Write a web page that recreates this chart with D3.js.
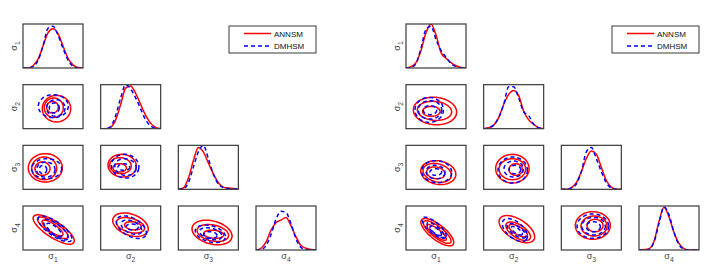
<!DOCTYPE html>
<html>
<head>
<meta charset="utf-8">
<script src="https://cdn.jsdelivr.net/npm/d3@7"></script>
<style>
  body { margin: 0; background: #fff; }
  text { font-family: "Liberation Sans", Arial, sans-serif; }
</style>
</head>
<body>
<svg id="chart" width="710" height="272"></svg>
<script>
// parameter names (sigma subscripts) and methods
const params = ["1", "2", "3", "4"];
const methods = ["ANNSM", "DMHSM"];
const methodColor = ["#ff0000", "#0000ff"];

// common grid for the marginal densities (standardised sigma)
const gridX = [-3, -2.5, -2, -1.5, -1, -0.5, 0, 0.5, 1, 1.5, 2, 2.5, 3];

// marginal densities, one row per sigma (1 = top of panel)
const leftANN = [
  [0, 0, 0.05, 0.2, 0.5, 0.8, 0.89, 0.78, 0.5, 0.22, 0.07, 0.01, 0],
  [0, 0, 0.03, 0.2, 0.55, 0.92, 0.97, 0.8, 0.55, 0.3, 0.12, 0.03, 0],
  [0, 0.03, 0.25, 0.65, 0.95, 0.85, 0.6, 0.35, 0.15, 0.05, 0.03, 0.02, 0],
  [0, 0.04, 0.18, 0.45, 0.62, 0.68, 0.74, 0.55, 0.3, 0.1, 0.04, 0.01, 0]
];
const leftDMH = [
  [0, 0, 0.03, 0.17, 0.5, 0.9, 0.95, 0.75, 0.45, 0.18, 0.04, 0, 0],
  [0, 0, 0.05, 0.3, 0.7, 1.0, 0.9, 0.7, 0.45, 0.2, 0.06, 0.01, 0],
  [0, 0.01, 0.15, 0.5, 0.85, 1.0, 0.7, 0.35, 0.12, 0.04, 0.02, 0.01, 0],
  [0, 0.01, 0.1, 0.35, 0.7, 0.88, 0.85, 0.6, 0.25, 0.06, 0.01, 0, 0]
];
const rightANN = [
  [0, 0.03, 0.12, 0.4, 0.8, 1.0, 0.75, 0.35, 0.22, 0.12, 0.05, 0.01, 0],
  [0, 0.02, 0.08, 0.25, 0.55, 0.78, 0.87, 0.75, 0.4, 0.2, 0.1, 0.02, 0],
  [0, 0, 0.04, 0.15, 0.4, 0.7, 0.87, 0.8, 0.5, 0.2, 0.05, 0, 0],
  [0, 0.01, 0.03, 0.2, 0.65, 0.97, 0.75, 0.4, 0.15, 0.03, 0, 0, 0]
];
const rightDMH = [
  [0, 0.01, 0.1, 0.45, 0.88, 0.95, 0.65, 0.4, 0.25, 0.1, 0.03, 0, 0],
  [0, 0.02, 0.08, 0.25, 0.55, 0.95, 0.95, 0.7, 0.38, 0.3, 0.1, 0.02, 0],
  [0, 0, 0.03, 0.12, 0.4, 0.85, 0.95, 0.7, 0.4, 0.15, 0.03, 0, 0],
  [0, 0, 0.02, 0.18, 0.6, 0.98, 0.8, 0.4, 0.12, 0.02, 0, 0, 0]
];

// pairwise contours: [row, col, rings]; ring = [cx, cy, a, b, tilt in degrees]
const leftContANN = [
  [1, 0, [[0.35, -0.27, 1.42, 1.33, 0], [0.08, -0.14, 0.95, 0.97, 0], [-0.05, -0.07, 0.58, 0.58, 0]]],
  [2, 0, [[-0.77, -0.07, 1.7, 1.42, 0], [-0.88, -0.14, 1.25, 1.13, 0], [-1.05, -0.18, 0.75, 0.67, 0]]],
  [2, 1, [[-0.85, 0.23, 1.42, 1.13, 5], [-1.02, 0.23, 1.08, 0.8, 5], [-1.1, -0.07, 0.67, 0.42, 0]]],
  [3, 0, [[0.07, -0.2, 2.4, 0.8, 33], [-0.02, 0.03, 1.8, 0.55, 33], [-0.05, 0, 1.25, 0.4, 35]]],
  [3, 1, [[-0.02, 0.45, 1.85, 1.05, 20], [-0.02, 0.37, 1.45, 0.7, 15], [0.23, 0.3, 0.85, 0.4, 8]]],
  [3, 2, [[0.37, -0.61, 2.05, 1.15, 15], [0.45, -0.68, 1.6, 0.8, 12], [0.53, -0.85, 1.0, 0.4, 5]]]
];
const leftContDMH = [
  [1, 0, [[0.03, 0.07, 1.5, 1.15, 0], [0.28, -0.18, 0.92, 0.83, 0], [0.13, -0.18, 0.5, 0.5, 0]]],
  [2, 0, [[-0.63, -0.18, 1.5, 1.0, 0], [-0.72, -0.3, 0.92, 0.75, 0], [-1.0, -0.3, 0.37, 0.42, 0]]],
  [2, 1, [[-0.55, 0.16, 1.38, 1.18, 10], [-0.52, 0.04, 1.08, 0.83, 10], [-0.68, 0.04, 0.58, 0.33, 0]]],
  [3, 0, [[0.2, -0.11, 2.0, 0.7, 35], [0.28, -0.23, 1.5, 0.55, 38], [0.12, -0.27, 0.95, 0.35, 40]]],
  [3, 1, [[0.07, 0.11, 1.65, 0.9, 30], [0.07, 0.11, 1.1, 0.6, 25], [0.15, 0.14, 0.6, 0.3, 5]]],
  [3, 2, [[0.2, -0.79, 1.55, 0.8, 15], [0.25, -0.78, 1.15, 0.55, 15], [0.2, -0.95, 0.67, 0.33, 5]]]
];
const rightContANN = [
  [1, 0, [[-0.1, -0.59, 2.17, 1.37, 5], [-0.15, -0.57, 1.72, 0.95, 5], [-0.47, -0.64, 0.87, 0.5, 0]]],
  [2, 0, [[0.23, -0.72, 1.77, 1.17, 10], [0.12, -0.75, 1.45, 0.9, 15], [-0.02, -0.75, 0.92, 0.58, 10]]],
  [2, 1, [[-0.13, -0.18, 1.67, 1.43, 0], [-0.13, -0.25, 1.33, 1.05, 0], [0.2, -0.3, 0.67, 0.58, 0]]],
  [3, 0, [[0.13, -0.57, 2.0, 0.75, 38], [0.12, -0.55, 1.7, 0.55, 38], [0.07, -0.61, 1.2, 0.35, 38]]],
  [3, 1, [[0.32, -0.16, 2.0, 1.0, 32], [0.45, -0.44, 1.4, 0.65, 32], [0.45, -0.37, 1.05, 0.4, 30]]],
  [3, 2, [[0.15, 0.34, 1.75, 1.38, 0], [0.27, 0.27, 1.3, 1.0, 0], [0.37, 0.34, 0.8, 0.62, 0]]]
];
const rightContDMH = [
  [1, 0, [[-0.68, -0.44, 1.42, 1.25, 0], [-0.6, -0.44, 1.17, 0.92, 0], [-0.6, -0.48, 0.67, 0.45, 0]]],
  [2, 0, [[0.07, -0.59, 1.5, 1.1, 5], [-0.05, -0.64, 0.95, 0.67, 5], [-0.02, -0.64, 0.58, 0.33, 0]]],
  [2, 1, [[-0.1, -0.37, 1.47, 1.3, 0], [0, -0.23, 0.97, 0.8, 0], [0.12, -0.3, 0.58, 0.42, 0]]],
  [3, 0, [[-0.18, 0.03, 1.5, 0.55, 40], [-0.02, -0.27, 1.1, 0.35, 40], [-0.02, -0.38, 0.7, 0.25, 38]]],
  [3, 1, [[0.12, -0.27, 1.5, 0.8, 40], [0.28, -0.38, 1.1, 0.45, 35], [0.32, -0.38, 0.65, 0.25, 35]]],
  [3, 2, [[0.15, 0.25, 1.58, 1.22, 0], [0.23, 0.25, 1.17, 0.88, 0], [0.2, 0.18, 0.7, 0.5, 0]]]
];

const svg = d3.select("#chart");
const panelW = 60, panelH = 44;
const colX = d3.scaleLinear().domain([0, 3]).range([0, 233]);
const rowY = d3.scaleLinear().domain([0, 3]).range([24, 206]);
const x = d3.scaleLinear().domain([-3, 3]).range([0, panelW]);
const yDens = d3.scaleLinear().domain([0, 1]).range([panelH, 0]);
const yCont = d3.scaleLinear().domain([-3, 3]).range([panelH, 0]);

const densLine = d3.line()
  .x((d, i) => x(gridX[i]))
  .y(d => yDens(d))
  .curve(d3.curveMonotoneX);

const ringLine = d3.line().curve(d3.curveLinearClosed);

function ringPoints(r) {
  const [cx, cy, a, b, tilt] = r;
  const ax = x(a) - x(0), bx = x(b) - x(0);
  const th = tilt * Math.PI / 180;
  const pts = [];
  for (let k = 0; k < 60; k++) {
    const t = k / 60 * 2 * Math.PI;
    const u = ax * Math.cos(t), v = bx * Math.sin(t);
    pts.push([x(cx) + u * Math.cos(th) - v * Math.sin(th),
              yCont(cy) + u * Math.sin(th) + v * Math.cos(th)]);
  }
  return pts;
}

function styleMethod(sel, m) {
  sel.attr("fill", "none")
    .attr("stroke", methodColor[m])
    .attr("stroke-width", 1.5)
    .attr("stroke-dasharray", m === 1 ? "4,3" : null);
}

function sigmaLabel(g, sub, size) {
  const t = g.append("text").attr("fill", "#444").attr("font-size", size);
  t.append("tspan").text("σ");
  t.append("tspan").attr("font-size", size * 0.75).attr("dy", 2.5).text(sub);
  return t;
}

let clipId = 0;
function drawCorner(originX, densA, densB, contA, contB, legendX) {
  const root = svg.append("g").attr("transform", `translate(${originX},0)`);

  for (let i = 0; i < 4; i++) {
    for (let j = 0; j <= i; j++) {
      const g = root.append("g")
        .attr("transform", `translate(${colX(j)},${rowY(i)})`);
      const id = "clip" + (clipId++);
      g.append("clipPath").attr("id", id)
        .append("rect").attr("width", panelW).attr("height", panelH);
      const inner = g.append("g").attr("clip-path", `url(#${id})`);

      if (i === j) {
        [densA[i], densB[i]].forEach((d, m) => {
          inner.append("path").attr("d", densLine(d)).call(styleMethod, m);
        });
      } else {
        [contA, contB].forEach((cont, m) => {
          const entry = cont.find(c => c[0] === i && c[1] === j);
          entry[2].forEach(r => {
            inner.append("path").attr("d", ringLine(ringPoints(r))).call(styleMethod, m);
          });
        });
      }

      g.append("rect")
        .attr("width", panelW).attr("height", panelH)
        .attr("fill", "none").attr("stroke", "#3a3a3a").attr("stroke-width", 1.2);
    }
    // y label (rotated)
    const yl = root.append("g")
      .attr("transform", `translate(${-6},${rowY(i) + panelH / 2}) rotate(-90)`);
    sigmaLabel(yl, params[i], 9).attr("text-anchor", "middle");
  }

  // x labels
  params.forEach((p, j) => {
    const xl = root.append("g").attr("transform", `translate(${colX(j) + panelW / 2},259)`);
    sigmaLabel(xl, p, 9).attr("text-anchor", "middle");
  });

  // legend
  const lg = root.append("g").attr("transform", `translate(${legendX},26)`);
  lg.append("rect").attr("width", 87).attr("height", 27)
    .attr("fill", "#fff").attr("stroke", "#3a3a3a").attr("stroke-width", 1);
  methods.forEach((name, m) => {
    const yy = 7.5 + m * 12.5;
    lg.append("line").attr("x1", 15).attr("x2", 42).attr("y1", yy).attr("y2", yy)
      .call(styleMethod, m);
    lg.append("text").attr("x", 45).attr("y", yy + 3)
      .attr("font-size", 8).attr("fill", "#111").text(name);
  });
}

drawCorner(23, leftANN, leftDMH, leftContANN, leftContDMH, 206);
drawCorner(406, rightANN, rightDMH, rightContANN, rightContDMH, 206);
</script>
</body>
</html>
